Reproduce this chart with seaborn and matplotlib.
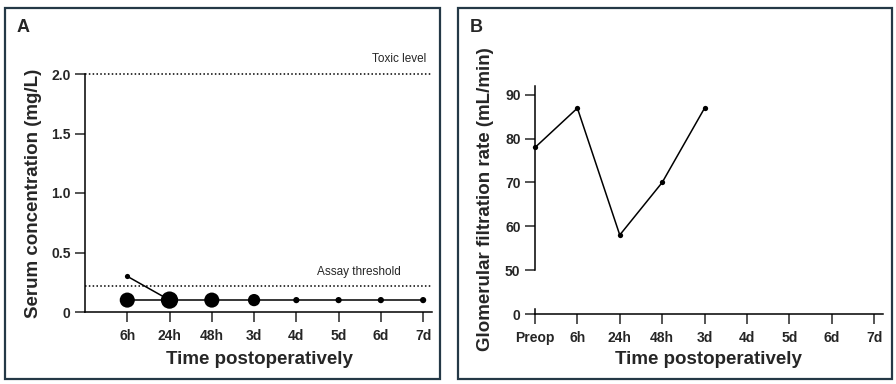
import matplotlib
matplotlib.use("Agg")
import matplotlib.pyplot as plt
from matplotlib.patches import Rectangle
import seaborn as sns
import numpy as np
import pandas as pd

# ===== DATA =====
time_labels = ["Preop", "6h", "24h", "48h", "3d", "4d", "5d", "6d", "7d"]

# panel A: serum concentration
conc_times = ["6h", "24h", "48h", "3d", "4d", "5d", "6d", "7d"]
conc_values = [0.1, 0.1, 0.1, 0.1, 0.1, 0.1, 0.1, 0.1]
conc_weight = [4, 5, 4, 3, 1, 1, 1, 1]
early_times = ["6h", "24h"]
early_values = [0.3, 0.1]
toxic_level = 2.0
assay_threshold = 0.22

# panel B: GFR
gfr_times = ["Preop", "6h", "24h", "48h", "3d"]
gfr_values = [78, 87, 58, 70, 87]

pos = {t: i for i, t in enumerate(time_labels)}
df_a = pd.DataFrame({"x": [pos[t] for t in conc_times], "y": conc_values, "w": conc_weight})
df_early = pd.DataFrame({"x": [pos[t] for t in early_times], "y": early_values})
df_b = pd.DataFrame({"x": [pos[t] for t in gfr_times], "y": gfr_values})

# ===== STYLE =====
sns.set_theme(style="ticks")
plt.rcParams["font.family"] = ["Liberation Sans", "DejaVu Sans"]
plt.rcParams["axes.linewidth"] = 1.1
plt.rcParams["xtick.major.width"] = 1.1
plt.rcParams["ytick.major.width"] = 1.1
plt.rcParams["xtick.major.size"] = 7
plt.rcParams["ytick.major.size"] = 7
plt.rcParams["axes.edgecolor"] = "black"

W, H = 896, 384
fig = plt.figure(figsize=(W / 100, H / 100), dpi=100)
fig.patch.set_facecolor("white")

def fx(px):
    return px / W

def fy(py):
    return 1 - py / H

frame_col = "#243846"
for x0, x1 in [(5, 440), (458, 892)]:
    fig.patches.append(Rectangle((fx(x0), fy(379)), fx(x1 - x0), (379 - 8) / H,
                                 transform=fig.transFigure, fill=False,
                                 edgecolor=frame_col, lw=1.6, zorder=0))

tick_font = dict(fontsize=10, fontweight="bold")
label_font = dict(fontsize=13.5, fontweight="bold")

# ===== PANEL A =====
ax_a = fig.add_axes([fx(85), fy(312), fx(432 - 85), (312 - 74) / H])
ax_a.set_xlim(0, 8.21)
ax_a.set_ylim(0, 2.0)

sns.lineplot(data=df_early, x="x", y="y", ax=ax_a, color="black", lw=1.1)
sns.lineplot(data=df_a, x="x", y="y", ax=ax_a, color="black", lw=1.1)
sns.scatterplot(data=df_early.iloc[:1], x="x", y="y", ax=ax_a, color="black", s=14,
                linewidth=0, legend=False)
sns.scatterplot(data=df_a, x="x", y="y", size="w", ax=ax_a, color="black",
                sizes={1: 20, 3: 78, 4: 118, 5: 155}, linewidth=0, legend=False,
                zorder=3, clip_on=False)

ax_a.axhline(toxic_level, color="black", lw=1.1, ls=(0, (1, 1.5)), clip_on=False)
ax_a.axhline(assay_threshold, color="black", lw=1.1, ls=(0, (1, 1.5)))
ax_a.text(8.07, 2.126, "Toxic level", ha="right", va="center", fontsize=8.5)
ax_a.text(7.46, 0.336, "Assay threshold", ha="right", va="center", fontsize=8.5)

ax_a.set_xticks(range(1, len(time_labels)))
ax_a.set_xticklabels(time_labels[1:], **tick_font)
ax_a.set_yticks([0, 0.5, 1.0, 1.5, 2.0])
ax_a.set_yticklabels(["0", "0.5", "1.0", "1.5", "2.0"], **tick_font)
ax_a.tick_params(axis="x", pad=5)
ax_a.tick_params(axis="y", pad=3.4)
sns.despine(ax=ax_a)
ax_a.set_xlabel("Time postoperatively", va="center", **label_font)
ax_a.set_ylabel("Serum concentration (mg/L)", va="center", **label_font)
ax_a.xaxis.set_label_coords(fx(259), fy(360), transform=fig.transFigure)
ax_a.yaxis.set_label_coords(fx(33), fy(193), transform=fig.transFigure)

# ===== PANEL B (broken y axis) =====
px_per_unit = 175 / 40
ax_b = fig.add_axes([fx(535), fy(270), fx(883 - 535), (270 - 86) / H])
ax_b.set_xlim(0, 8.21)
ax_b.set_ylim(50, 50 + (270 - 86) / px_per_unit)
sns.lineplot(data=df_b, x="x", y="y", ax=ax_b, color="black", lw=1.1,
             marker="o", markersize=3.8, markeredgewidth=0, clip_on=False)
ax_b.set_yticks([50, 60, 70, 80, 90])
ax_b.set_yticklabels(["50", "60", "70", "80", "90"], **tick_font)
ax_b.set_xticks([])
ax_b.tick_params(axis="y", pad=3.4)
sns.despine(ax=ax_b, bottom=True)
ax_b.set_xlabel("")
ax_b.set_ylabel("Glomerular filtration rate (mL/min)", va="center", **label_font)
ax_b.yaxis.set_label_coords(fx(485), fy(199.5), transform=fig.transFigure)

ax_b0 = fig.add_axes([fx(535), fy(314), fx(883 - 535), 5 / H])
ax_b0.set_xlim(0, 8.21)
ax_b0.set_ylim(0, 5 / px_per_unit)
ax_b0.set_yticks([0])
ax_b0.set_yticklabels(["0"], **tick_font)
ax_b0.set_xticks(range(len(time_labels)))
ax_b0.set_xticklabels(time_labels, **tick_font)
ax_b0.tick_params(axis="x", pad=5)
ax_b0.tick_params(axis="y", pad=3.4)
ax_b0.patch.set_alpha(0)
sns.despine(ax=ax_b0)
ax_b0.set_xlabel("Time postoperatively", va="center", **label_font)
ax_b0.xaxis.set_label_coords(fx(708.5), fy(360), transform=fig.transFigure)

# ===== PANEL LETTERS =====
fig.text(fx(23), fy(27), "A", ha="center", va="center", fontsize=13, fontweight="bold")
fig.text(fx(476), fy(27), "B", ha="center", va="center", fontsize=13, fontweight="bold")

fig.savefig("out.png", dpi=100)
